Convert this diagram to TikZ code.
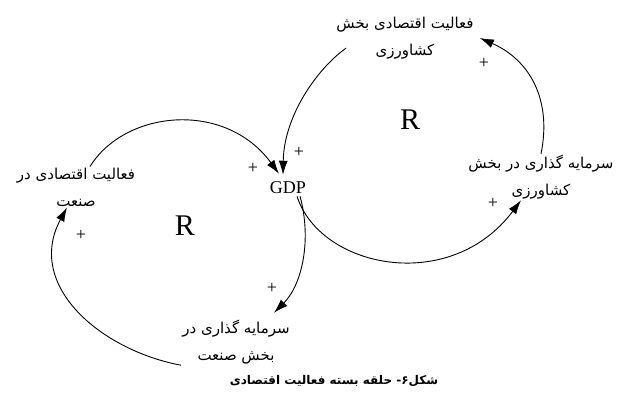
\documentclass[tikz,border=0pt]{standalone}
\usepackage{fontspec}
\setmainfont{Liberation Serif}
\newfontfamily\farsi[Script=Arabic]{DejaVu Sans}
\TeXXeTstate=1
\newcommand{\rtl}[1]{\beginR#1\endR}
\usetikzlibrary{arrows.meta}

\tikzset{
    lbl/.style={font={\farsi\fontsize{15}{27}\selectfont}, align=center, inner sep=1pt},
    loopR/.style={font={\fontsize{30}{30}\selectfont}, inner sep=0pt},
    plus/.style={font={\fontsize{18}{18}\selectfont}, inner sep=0pt},
    arr/.style={-{Latex[length=14pt,width=9pt]}, line width=0.9pt}
}

\begin{document}
\begin{tikzpicture}[x=1pt,y=-1pt]
    \useasboundingbox (0,0) rectangle (629,405);
    \node[font={\fontsize{18}{18}\selectfont}, inner sep=2pt] (gdp) at (288,188) {GDP};
    \node[lbl] (actK) at (405,38) {\rtl{فعالیت اقتصادی بخش}\\\rtl{کشاورزی}};
    \node[lbl] (invK) at (541,177) {\rtl{سرمایه گذاری در بخش}\\\rtl{کشاورزی}};
    \node[lbl] (actS) at (76,187) {\rtl{فعالیت اقتصادی در}\\\rtl{صنعت}};
    \node[lbl] (invS) at (236,342) {\rtl{سرمایه گذاری در}\\\rtl{بخش صنعت}};
    \node[loopR] (rK) at (410,120) {R};
    \node[loopR] (rS) at (185,226) {R};
    \draw[arr] ([shift={(11pt,-10pt)}]actK.west) .. controls (318,68) and (284,115) .. ([shift={(-5pt,5pt)}]gdp.north);
    \draw[arr] ([xshift=14pt]actS.north) .. controls (125,110) and (225,100) .. ([shift={(-9pt,6pt)}]gdp.north);
    \draw[arr] ([xshift=9pt]gdp.south) .. controls (320,268) and (450,295) .. ([xshift=-20pt]invK.south);
    \draw[arr] (invK.north) .. controls (552,100) and (530,60) .. ([xshift=5pt]actK.east);
    \draw[arr] ([xshift=12pt]gdp.south) .. controls (312,240) and (302,285) .. ([shift={(38pt,6pt)}]invS.north);
    \draw[arr] (invS.south west) .. controls (100,350) and (25,285) .. ([xshift=-9pt]actS.south);
    \node[plus] (p1) at (299,152) {+};
    \node[plus] (p2) at (253,168) {+};
    \node[plus] (p3) at (493,203) {+};
    \node[plus] (p4) at (484,63) {+};
    \node[plus] (p5) at (272,288) {+};
    \node[plus] (p6) at (81,235) {+};
    \node[font={\farsi\bfseries\fontsize{12}{12}\selectfont}] (cap) at (334,381) {\rtl{شکل۶- حلقه بسته فعالیت اقتصادی}};
\end{tikzpicture}
\end{document}
